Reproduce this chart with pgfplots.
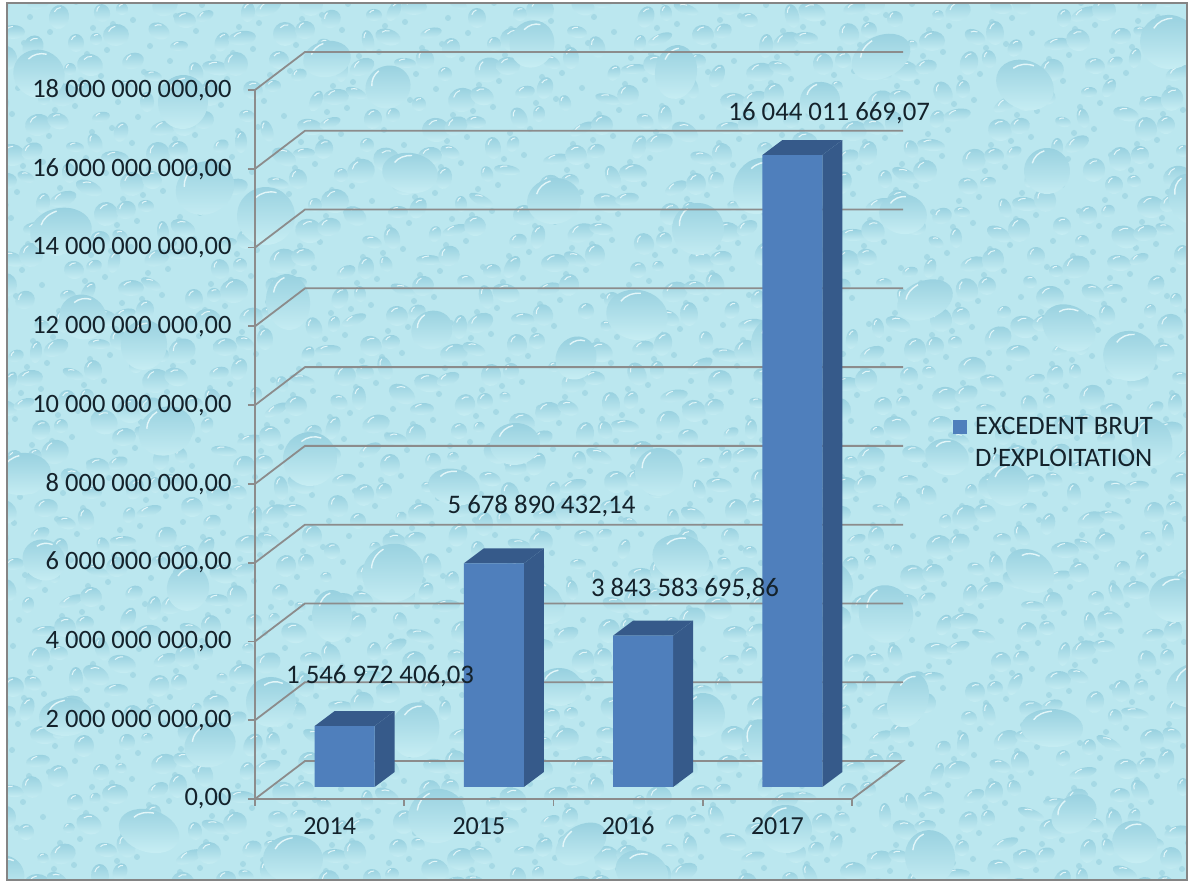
\documentclass[border=0pt]{standalone}
\usepackage{pgfplots}
\pgfplotsset{compat=1.18}
\usepackage{fontspec}
\setmainfont{Carlito}
\definecolor{bg}{HTML}{BBE7EF}
\definecolor{dropd}{HTML}{97D0DF}
\definecolor{dropl}{HTML}{C6EDF3}
\definecolor{drops}{HTML}{A6D9E5}
\definecolor{glint}{HTML}{E2F6F9}
\definecolor{front}{HTML}{4F7FBC}
\definecolor{sidec}{HTML}{365A8A}
\definecolor{gridc}{HTML}{8C8C8C}
\definecolor{framec}{HTML}{858585}
\definecolor{txt}{HTML}{14222B}
\begin{document}
\begin{tikzpicture}[x=1pt,y=1pt]
\useasboundingbox (0,0) rectangle (1189,882);
\fill[white] (0,0) rectangle (1189,882);
\begin{scope}
\clip (7,2) rectangle (1187,879);
\fill[bg] (7,2) rectangle (1187,879);
% decorative water drops of the backdrop
\foreach \i in {0,...,39}{
  \foreach \j in {0,...,31}{
    \pgfmathsetmacro{\px}{\i*30+mod(\j*29+\i*13,23)-6}
    \pgfmathsetmacro{\py}{\j*28+mod(\i*23+\j*17,19)-6}
    \pgfmathsetmacro{\rx}{6+mod(\i*7+\j*11,9)}
    \pgfmathsetmacro{\ry}{5+mod(\i*5+\j*3,8)}
    \pgfmathsetmacro{\rot}{mod(\i*31+\j*47,60)-30}
    \shade[top color=dropd,bottom color=dropl,rotate around={\rot:(\px,\py)}]
      (\px,\py) ellipse [x radius=\rx,y radius=\ry];
    \draw[glint,line width=1pt,rotate around={\rot:(\px,\py)}]
      (\px-0.55*\rx,\py+0.35*\ry) arc[start angle=160,end angle=100,x radius=0.7*\rx,y radius=0.7*\ry];
    \fill[drops] (\px+17,\py+15) circle[radius=3];
  }
}
\foreach \i in {0,...,9}{
  \foreach \j in {0,...,6}{
    \pgfmathsetmacro{\px}{\i*125+mod(\j*61+\i*19,83)+5}
    \pgfmathsetmacro{\py}{\j*128+mod(\i*43+\j*29,71)+8}
    \pgfmathsetmacro{\rx}{20+mod(\i*11+\j*7,12)}
    \pgfmathsetmacro{\ry}{18+mod(\i*3+\j*13,12)}
    \pgfmathsetmacro{\rot}{mod(\i*17+\j*37,70)-35}
    \shade[top color=dropd,bottom color=dropl,rotate around={\rot:(\px,\py)}]
      (\px,\py) ellipse [x radius=\rx,y radius=\ry];
    \draw[glint,line width=1.4pt,rotate around={\rot:(\px,\py)}]
      (\px-0.6*\rx,\py+0.4*\ry) arc[start angle=160,end angle=100,x radius=0.75*\rx,y radius=0.75*\ry];
  }
}
\end{scope}
\draw[framec,line width=2pt] (7,2) rectangle (1187,879);
\begin{axis}[
  at={(255pt,83pt)},anchor=south west,
  scale only axis,width=597pt,height=709pt,
  xmin=-0.5,xmax=3.5,ymin=0,ymax=18000000000,
  clip=false,
  axis y line*=left,axis x line*=bottom,
  axis line style={gridc,line width=1.8pt,-},
  xtick={0,1,2,3},
  xticklabels={2014,2015,2016,2017},
  minor xtick={-0.5,0.5,1.5,2.5,3.5},
  ytick={0,2000000000,4000000000,6000000000,8000000000,10000000000,12000000000,14000000000,16000000000,18000000000},
  yticklabels={{0,00},{2~000~000~000,00},{4~000~000~000,00},{6~000~000~000,00},{8~000~000~000,00},{10~000~000~000,00},{12~000~000~000,00},{14~000~000~000,00},{16~000~000~000,00},{18~000~000~000,00}},
  scaled y ticks=false,
  tick align=outside,
  major tick length=7pt,minor tick length=7pt,
  major x tick style={draw=none},
  minor x tick style={draw=gridc,line width=1.8pt},
  ytick style={draw=gridc,line width=1.8pt},
  ticklabel style={font=\fontsize{26}{30}\selectfont,text=txt},
  yticklabel style={xshift=-13pt,font=\fontsize{26.5}{30}\selectfont},
  xticklabel style={yshift=-8pt,text depth=0pt,text height=17pt},
  legend style={at={(953pt-255pt,444pt-83pt)},anchor=south west,draw=none,fill=none,
    font=\fontsize{26.6}{32}\selectfont,text=txt,inner sep=0pt},
  legend cell align=left,
]
% back-wall and side-wall gridlines
\addplot[forget plot,gridc,line width=1.8pt] coordinates {(-0.5,0)(-0.165,964700000)(3.8417,964700000)(3.5,0)};
\addplot[forget plot,gridc,line width=1.8pt] coordinates {(-0.5,2000000000)(-0.165,2964700000)(3.8417,2964700000)};
\addplot[forget plot,gridc,line width=1.8pt] coordinates {(-0.5,4000000000)(-0.165,4964700000)(3.8417,4964700000)};
\addplot[forget plot,gridc,line width=1.8pt] coordinates {(-0.5,6000000000)(-0.165,6964700000)(3.8417,6964700000)};
\addplot[forget plot,gridc,line width=1.8pt] coordinates {(-0.5,8000000000)(-0.165,8964700000)(3.8417,8964700000)};
\addplot[forget plot,gridc,line width=1.8pt] coordinates {(-0.5,10000000000)(-0.165,10964700000)(3.8417,10964700000)};
\addplot[forget plot,gridc,line width=1.8pt] coordinates {(-0.5,12000000000)(-0.165,12964700000)(3.8417,12964700000)};
\addplot[forget plot,gridc,line width=1.8pt] coordinates {(-0.5,14000000000)(-0.165,14964700000)(3.8417,14964700000)};
\addplot[forget plot,gridc,line width=1.8pt] coordinates {(-0.5,16000000000)(-0.165,16964700000)(3.8417,16964700000)};
\addplot[forget plot,gridc,line width=1.8pt] coordinates {(-0.5,18000000000)(-0.165,18964700000)(3.8417,18964700000)};
% side and top faces of the bars
\addplot[forget plot,fill=sidec,draw=none] coordinates {(0.3015,304700000)(0.3015,1851670000)(0.4355,2232470000)(0.4355,685500000)} -- cycle;
\addplot[forget plot,fill=sidec,draw=none] coordinates {(-0.1005,1851670000)(0.3015,1851670000)(0.4355,2232470000)(0.0335,2232470000)} -- cycle;
\addplot[forget plot,fill=sidec,draw=none] coordinates {(1.3015,304700000)(1.3015,5983590000)(1.4355,6364390000)(1.4355,685500000)} -- cycle;
\addplot[forget plot,fill=sidec,draw=none] coordinates {(0.8995,5983590000)(1.3015,5983590000)(1.4355,6364390000)(1.0335,6364390000)} -- cycle;
\addplot[forget plot,fill=sidec,draw=none] coordinates {(2.3015,304700000)(2.3015,4148280000)(2.4355,4529080000)(2.4355,685500000)} -- cycle;
\addplot[forget plot,fill=sidec,draw=none] coordinates {(1.8995,4148280000)(2.3015,4148280000)(2.4355,4529080000)(2.0335,4529080000)} -- cycle;
\addplot[forget plot,fill=sidec,draw=none] coordinates {(3.3015,304700000)(3.3015,16348710000)(3.4355,16729510000)(3.4355,685500000)} -- cycle;
\addplot[forget plot,fill=sidec,draw=none] coordinates {(2.8995,16348710000)(3.3015,16348710000)(3.4355,16729510000)(3.0335,16729510000)} -- cycle;
% front faces
\addplot[ybar,bar width=60pt,bar shift=15pt,yshift=12pt,fill=front,draw=none,
  area legend,
  legend image code/.code={\fill[front] (0pt,-22pt) rectangle (14pt,-8pt);}]
  coordinates {(0,1546972406.03)(1,5678890432.14)(2,3843583695.86)(3,16044011669.07)};
\addlegendentry{\begin{tabular}[t]{@{\hspace{6pt}}l@{}}EXCEDENT BRUT\\D’EXPLOITATION\end{tabular}}
% data labels
\node[text=txt,font=\fontsize{26.8}{30}\selectfont] at (axis cs:0.338,3120000000) {1~546~972~406,03};
\node[text=txt,font=\fontsize{26.8}{30}\selectfont] at (axis cs:1.42,7438000000) {5~678~890~432,14};
\node[text=txt,font=\fontsize{26.8}{30}\selectfont] at (axis cs:2.381,5331000000) {3~843~583~695,86};
\node[text=txt,font=\fontsize{26.8}{30}\selectfont] at (axis cs:3.347,17415000000) {16~044~011~669,07};
\end{axis}
\end{tikzpicture}
\end{document}
